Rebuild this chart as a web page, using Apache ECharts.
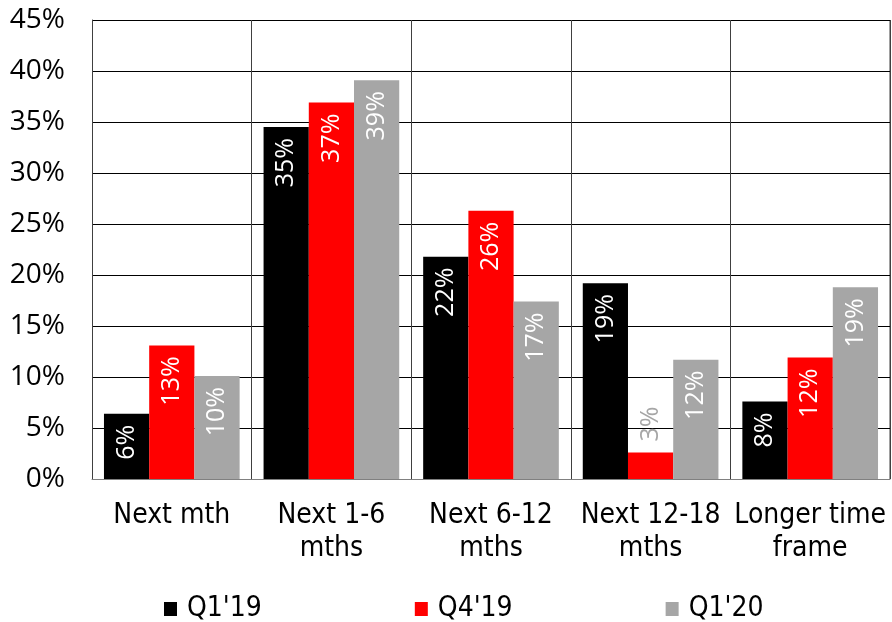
<!DOCTYPE html>
<html><head><meta charset="utf-8">
<script src="https://cdn.jsdelivr.net/npm/echarts@6/dist/echarts.min.js"></script>
<style>html,body{margin:0;padding:0;background:#fff}#c{width:892px;height:622px}</style>
</head><body><div id="c"></div>
<script>
const categories = ["Next mth", "Next 1-6\nmths", "Next 6-12\nmths", "Next 12-18\nmths", "Longer time\nframe"];
const q1_19 = [6.4, 34.5, 21.8, 19.2, 7.6];
const q4_19 = [13.1, 36.9, 26.3, 2.6, 11.9];
const q1_20 = [10.1, 39.1, 17.4, 11.7, 18.8];
const labelQ1_19 = ["6%", "35%", "22%", "19%", "8%"];
const labelQ4_19 = ["13%", "37%", "26%", "3%", "12%"];
const labelQ1_20 = ["10%", "39%", "17%", "12%", "19%"];
const yTicks = [0, 5, 10, 15, 20, 25, 30, 35, 40, 45];

const FONT = "'Open Sans', 'Noto Sans', sans-serif";
const NARROW = "'Liberation Sans Narrow', 'DejaVu Sans Condensed', sans-serif";

function mk(name, vals, labels, color, outsideIdx) {
  return {
    name: name, type: 'bar', barGap: '0%', barCategoryGap: '15%',
    itemStyle: { color: color },
    data: vals.map((v, i) => {
      const d = { value: v };
      if (outsideIdx === i) {
        d.label = { position: 'top', align: 'left', color: '#a6a6a6', distance: 11 };
      }
      return d;
    }),
    label: {
      show: true, position: 'insideTop', rotate: 90, align: 'right', verticalAlign: 'middle',
      distance: 11, color: '#fff', fontSize: 25, fontFamily: FONT,
      formatter: p => labels[p.dataIndex]
    }
  };
}

const chart = echarts.init(document.getElementById('c'));
chart.setOption({
  animation: false,
  grid: { left: 92, right: 2, top: 20, bottom: 143, containLabel: false },
  legend: {
    top: 590, left: 159, itemWidth: 13, itemHeight: 14, itemGap: 153,
    icon: 'rect',
    textStyle: { fontSize: 28, fontFamily: NARROW, color: '#000', padding: [0, 0, 0, 5] },
    data: ["Q1'19", "Q4'19", "Q1'20"]
  },
  xAxis: {
    type: 'category', data: categories,
    axisLine: { lineStyle: { color: '#808080', width: 1 } },
    axisTick: { show: false },
    splitLine: { show: true, lineStyle: { color: '#404040', width: 1 } },
    axisLabel: { fontSize: 28, fontFamily: NARROW, color: '#000', margin: 20, lineHeight: 33, interval: 0 }
  },
  yAxis: {
    type: 'value', min: 0, max: 45, interval: 5,
    axisLine: { show: true, lineStyle: { color: '#404040' } },
    axisTick: { show: false },
    splitLine: { show: true, lineStyle: { color: '#000', width: 1 } },
    axisLabel: { fontSize: 28, fontFamily: FONT, color: '#000', margin: 27,
      formatter: v => yTicks.includes(v) ? v + '%' : '' }
  },
  series: [
    mk("Q1'19", q1_19, labelQ1_19, '#000000', -1),
    mk("Q4'19", q4_19, labelQ4_19, '#ff0000', 3),
    mk("Q1'20", q1_20, labelQ1_20, '#a6a6a6', -1)
  ],
  graphic: [{ type: 'line', shape: { x1: 890, y1: 20, x2: 890, y2: 479 }, style: { stroke: '#404040', lineWidth: 1 } }]
});
</script></body></html>
